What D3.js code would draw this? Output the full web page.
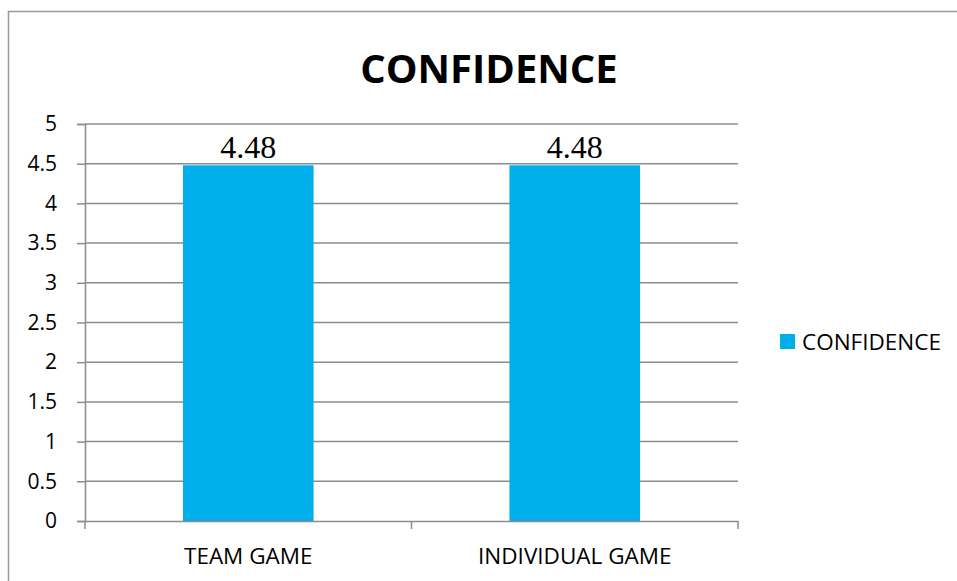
<!DOCTYPE html>
<html>
<head>
<meta charset="utf-8">
<script src="https://cdn.jsdelivr.net/npm/d3@7"></script>
<style>
  body { margin: 0; background: #fff; }
  svg { display: block; }
</style>
</head>
<body>
<div id="chart"></div>
<script>
// chart data
const categories = ["TEAM GAME", "INDIVIDUAL GAME"];
const values = [4.48, 4.48];
const seriesName = "CONFIDENCE";
const yTicks = [0, 0.5, 1, 1.5, 2, 2.5, 3, 3.5, 4, 4.5, 5];

const W = 957, H = 581;
const plot = {left: 85, right: 738, top: 124, bottom: 521};
const barColor = "#00AEEA", gridColor = "#8c8c8c";
const font = "Open Sans, sans-serif";

const svg = d3.select("#chart").append("svg")
    .attr("width", W)
    .attr("height", H);

// outer frame (runs off the right and bottom edge)
svg.append("rect")
    .attr("x", 8.5).attr("y", 11.5)
    .attr("width", W + 20).attr("height", H + 20)
    .attr("fill", "none")
    .attr("stroke", "#999")
    .attr("stroke-width", 1.5);

const x = d3.scaleBand()
    .domain(categories)
    .range([plot.left, plot.right])
    .paddingInner(0.6)
    .paddingOuter(0.3);

const xGroup = d3.scaleBand()
    .domain(categories)
    .range([plot.left, plot.right]);

const y = d3.scaleLinear()
    .domain([0, 5])
    .range([plot.bottom, plot.top]);

// gridlines
svg.append("g")
    .selectAll("line")
    .data(yTicks.filter(d => d > 0))
    .join("line")
    .attr("x1", plot.left).attr("x2", plot.right)
    .attr("y1", d => y(d)).attr("y2", d => y(d))
    .attr("stroke", gridColor)
    .attr("stroke-width", 1.5);

// bars
svg.append("g")
    .selectAll("rect")
    .data(values)
    .join("rect")
    .attr("x", (d, i) => x(categories[i]))
    .attr("width", x.bandwidth())
    .attr("y", d => y(d))
    .attr("height", d => y(0) - y(d))
    .attr("fill", barColor);

// value labels
svg.append("g")
    .selectAll("text")
    .data(values)
    .join("text")
    .attr("x", (d, i) => x(categories[i]) + x.bandwidth() / 2)
    .attr("y", d => y(d) - 7)
    .attr("text-anchor", "middle")
    .attr("font-family", "Liberation Serif, serif")
    .attr("font-size", 32)
    .attr("fill", "#000")
    .text(d => d.toFixed(2));

// y axis
const yAxis = d3.axisLeft(y)
    .tickValues(yTicks)
    .tickSize(8)
    .tickPadding(20)
    .tickFormat(d => d);

svg.append("g")
    .attr("transform", `translate(${plot.left},0)`)
    .call(yAxis)
    .call(g => g.select(".domain").attr("stroke", gridColor).attr("stroke-width", 1.5))
    .call(g => g.selectAll(".tick line").attr("stroke", gridColor).attr("stroke-width", 1.5))
    .call(g => g.selectAll(".tick text")
        .attr("font-family", font)
        .attr("font-size", 21)
        .attr("fill", "#000"));

// x axis: ticks sit on the category boundaries
const xAxis = d3.axisBottom(xGroup)
    .tickSize(0)
    .tickPadding(27);

svg.append("g")
    .attr("transform", `translate(0,${plot.bottom})`)
    .call(xAxis)
    .call(g => g.select(".domain").attr("stroke", gridColor).attr("stroke-width", 1.5))
    .call(g => g.selectAll(".tick text")
        .attr("font-family", font)
        .attr("font-size", 22.5)
        .attr("fill", "#000"));

const boundaries = [plot.left].concat(categories.map(c => xGroup(c) + xGroup.bandwidth()));
svg.append("g")
    .selectAll("line")
    .data(boundaries)
    .join("line")
    .attr("x1", d => d).attr("x2", d => d)
    .attr("y1", plot.bottom).attr("y2", plot.bottom + 8)
    .attr("stroke", gridColor)
    .attr("stroke-width", 1.5);

// title
svg.append("text")
    .attr("x", 489)
    .attr("y", 83)
    .attr("text-anchor", "middle")
    .attr("font-family", font)
    .attr("font-weight", "bold")
    .attr("font-size", 40)
    .text(seriesName);

// legend
const legend = svg.append("g").attr("transform", "translate(780,334)");
legend.append("rect")
    .attr("width", 15).attr("height", 15)
    .attr("fill", barColor);
legend.append("text")
    .attr("x", 22).attr("y", 16)
    .attr("font-family", font)
    .attr("font-size", 22.5)
    .attr("fill", "#000")
    .text(seriesName);
</script>
</body>
</html>
